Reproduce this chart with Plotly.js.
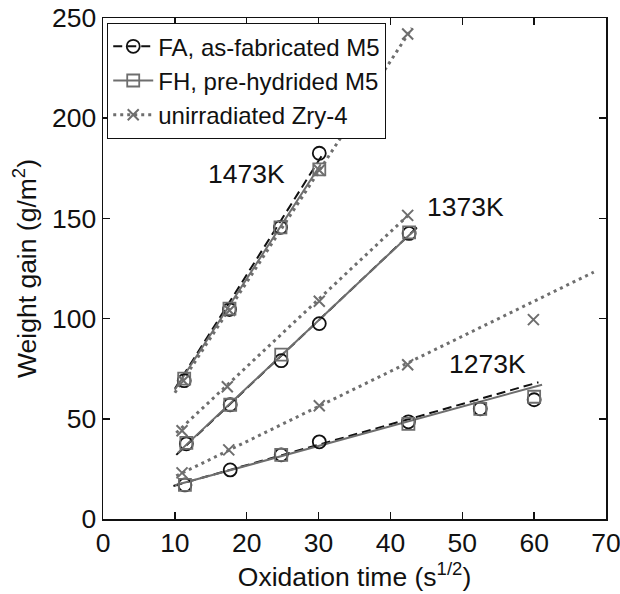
<!DOCTYPE html>
<html>
<head>
<meta charset="utf-8">
<script src="https://cdn.plot.ly/plotly-3.0.1.min.js"></script>
<style>
  html, body { margin: 0; padding: 0; background: #fff; }
  #chart { width: 620px; height: 594px; }
</style>
</head>
<body>
<div id="chart"></div>
<script>
// Oxidation weight gain vs square root of time, three temperatures

// FA, as-fabricated M5 (open circles)
const faX1273 = [11.4, 17.7, 24.8, 30.1, 42.5, 52.5, 60.0];
const faY1273 = [17.0, 24.5, 32.0, 38.5, 48.5, 55.0, 59.5];
const faX1373 = [11.6, 17.7, 24.8, 30.1, 42.6];
const faY1373 = [37.5, 57.0, 79.0, 97.5, 142.5];
const faX1473 = [11.3, 17.6, 24.7, 30.1];
const faY1473 = [69.0, 104.5, 145.5, 182.5];

// FH, pre-hydrided M5 (open squares)
const fhX1273 = [11.4, 24.8, 42.5, 52.5, 60.0];
const fhY1273 = [17.0, 32.0, 47.5, 55.0, 61.0];
const fhX1373 = [11.6, 17.7, 24.8, 42.6];
const fhY1373 = [38.0, 57.0, 82.0, 143.0];
const fhX1473 = [11.3, 17.6, 24.7, 30.1];
const fhY1473 = [70.0, 105.0, 145.5, 174.5];

// unirradiated Zry-4 (crosses)
const zrX1273 = [11.0, 17.5, 30.1, 42.4, 59.9];
const zrY1273 = [23.0, 34.5, 56.5, 77.0, 99.5];
const zrX1373 = [11.0, 17.3, 30.1, 42.4];
const zrY1373 = [44.0, 66.0, 108.7, 151.5];
const zrX1473 = [11.2, 17.6, 30.1, 42.4];
const zrY1473 = [69.0, 104.0, 174.0, 242.0];

// Linear fit lines: start and end points [x0, x1], [y0, y1]
const faFitX = { k1273: [9.8, 60.6], k1373: [10.2, 44.0], k1473: [10.0, 30.4] };
const faFitY = { k1273: [16.5, 68.2], k1373: [32.0, 146.5], k1473: [65.0, 181.0] };
const fhFitX = { k1273: [10.0, 61.1], k1373: [10.4, 43.6], k1473: [10.0, 30.3] };
const fhFitY = { k1273: [16.8, 67.0], k1373: [33.0, 145.0], k1473: [64.5, 177.0] };
const zrFitX = { k1273: [10.2, 68.3], k1373: [10.2, 42.6], k1473: [10.0, 43.0] };
const zrFitY = { k1273: [21.5, 123.2], k1373: [43.0, 152.0], k1473: [63.0, 245.0] };

// Temperature labels
const tempLabels = ['1473K', '1373K', '1273K'];
const tempLabelX = [20.0, 50.5, 53.5];
const tempLabelY = [172.0, 155.5, 77.5];

const seriesNames = ['FA, as-fabricated M5', 'FH, pre-hydrided M5', 'unirradiated Zry-4'];
const xTicks = [0, 10, 20, 30, 40, 50, 60, 70];
const yTicks = [0, 50, 100, 150, 200, 250];

const FONT = 'Liberation Sans, Arial, Helvetica, sans-serif';
const BLACK = '#111111';
const GRAY = '#6e6e6e';

const styles = [
  { line: { color: BLACK, width: 2, dash: '9px,5px' },
    marker: { symbol: 'circle-open', size: 13, color: BLACK, line: { width: 1.8, color: BLACK } } },
  { line: { color: GRAY, width: 2, dash: 'solid' },
    marker: { symbol: 'square-open', size: 12, color: GRAY, line: { width: 1.8, color: GRAY } } },
  { line: { color: GRAY, width: 3, dash: '3px,4px' },
    marker: { symbol: 'x-thin-open', size: 11, color: GRAY, line: { width: 2, color: GRAY } } }
];

const fitX = [faFitX, fhFitX, zrFitX];
const fitY = [faFitY, fhFitY, zrFitY];
const ptX = [[faX1273, faX1373, faX1473], [fhX1273, fhX1373, fhX1473], [zrX1273, zrX1373, zrX1473]];
const ptY = [[faY1273, faY1373, faY1473], [fhY1273, fhY1373, fhY1473], [zrY1273, zrY1373, zrY1473]];
const keys = ['k1273', 'k1373', 'k1473'];

const traces = [];
for (let s = 0; s < 3; s++) {
  // fit lines
  keys.forEach(k => {
    traces.push({
      type: 'scatter', mode: 'lines', x: fitX[s][k], y: fitY[s][k],
      line: styles[s].line, showlegend: false, hoverinfo: 'skip', cliponaxis: true
    });
  });
}
for (let s = 0; s < 3; s++) {
  // measured points
  for (let t = 0; t < 3; t++) {
    traces.push({
      type: 'scatter', mode: 'markers', x: ptX[s][t], y: ptY[s][t],
      marker: styles[s].marker, showlegend: false, cliponaxis: true
    });
  }
}
// legend entries (line + marker sample)
for (let s = 0; s < 3; s++) {
  traces.push({
    type: 'scatter', mode: 'lines+markers', x: [null], y: [null],
    name: seriesNames[s], line: styles[s].line, marker: styles[s].marker, showlegend: true
  });
}

const annotations = tempLabels.map((txt, i) => ({
  x: tempLabelX[i], y: tempLabelY[i], xref: 'x', yref: 'y', text: txt,
  showarrow: false, font: { family: FONT, size: 26.5, color: BLACK }
}));

const axisCommon = {
  showgrid: false, zeroline: false, showline: true, linecolor: BLACK, linewidth: 1.5,
  mirror: 'ticks', ticks: 'inside', ticklen: 7, tickwidth: 1.5, tickcolor: BLACK,
  ticklabeloverflow: 'allow',
  tickfont: { family: FONT, size: 26.5, color: BLACK }
};

const layout = {
  width: 620, height: 594,
  margin: { l: 103, r: 14, t: 18, b: 75 },
  paper_bgcolor: '#fff', plot_bgcolor: '#fff',
  font: { family: FONT, color: BLACK },
  showlegend: true,
  legend: {
    x: 0.008, y: 0.99, xanchor: 'left', yanchor: 'top',
    bgcolor: '#fff', bordercolor: BLACK, borderwidth: 1.2,
    font: { family: FONT, size: 24, color: BLACK },
    itemwidth: 40, tracegroupgap: 0
  },
  xaxis: Object.assign({}, axisCommon, {
    range: [0, 70], tickvals: xTicks, ticktext: xTicks.map(String),
    title: { text: 'Oxidation time (s<sup>1/2</sup>)', font: { family: FONT, size: 26.5, color: BLACK }, standoff: 5 }
  }),
  yaxis: Object.assign({}, axisCommon, {
    range: [0, 250], tickvals: yTicks, ticktext: yTicks.map(String),
    title: { text: 'Weight gain (g/m<sup>2</sup>)', font: { family: FONT, size: 26.5, color: BLACK }, standoff: 7 }
  }),
  annotations: annotations
};

Plotly.newPlot('chart', traces, layout, { staticPlot: true, displayModeBar: false });
</script>
</body>
</html>
